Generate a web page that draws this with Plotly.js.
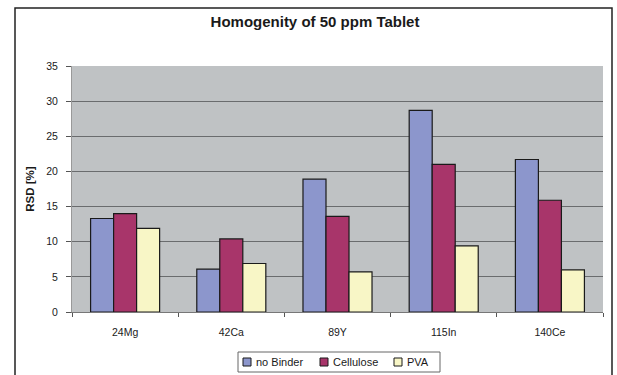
<!DOCTYPE html>
<html>
<head>
<meta charset="utf-8">
<script src="https://cdn.plot.ly/plotly-3.0.1.min.js"></script>
<style>
  html, body { margin: 0; padding: 0; background: #ffffff; }
  #chart { width: 617px; height: 375px; }
</style>
</head>
<body>
<div id="chart"></div>
<script>
const categories = ["24Mg", "42Ca", "89Y", "115In", "140Ce"];
const noBinder = [13.3, 6.1, 18.9, 28.7, 21.7];
const cellulose = [14.0, 10.4, 13.6, 21.0, 15.9];
const pva = [11.9, 6.9, 5.7, 9.4, 6.0];
const seriesNames = ["no Binder", "Cellulose", "PVA"];
const yTicks = [0, 5, 10, 15, 20, 25, 30, 35];

const colors = ["#8c96cc", "#a8356a", "#f8f6c6"];
const values = [noBinder, cellulose, pva];

const M = { l: 72, r: 14, t: 66, b: 63 };
const W = 617, H = 375;
const PW = W - M.l - M.r, PH = H - M.t - M.b;
const px = x => (x - M.l) / PW;          // pixel -> paper x
const py = y => (H - M.b - y) / PH;      // pixel -> paper y

const traces = values.map((v, i) => ({
  type: "bar",
  name: seriesNames[i],
  x: categories,
  y: v,
  marker: { color: colors[i], line: { color: "#1a1a1a", width: 1.2 } },
  hoverinfo: "x+y+name",
  showlegend: false
}));

// Compact legend (Excel style) drawn as shapes + text annotations
const legendItems = [
  { sq: 243, tx: 254 },
  { sq: 320, tx: 331 },
  { sq: 394, tx: 405 }
];
const legendShapes = [
  {
    type: "rect", xref: "paper", yref: "paper",
    x0: px(238), x1: px(440), y0: py(372), y1: py(352),
    line: { color: "#666666", width: 1 }, fillcolor: "#ffffff"
  }
];
const legendAnn = [];
legendItems.forEach((it, i) => {
  legendShapes.push({
    type: "rect", xref: "paper", yref: "paper",
    x0: px(it.sq), x1: px(it.sq + 8), y0: py(366), y1: py(358),
    line: { color: "#1a1a1a", width: 1 }, fillcolor: colors[i]
  });
  legendAnn.push({
    xref: "paper", yref: "paper", x: px(it.tx), y: py(362),
    xanchor: "left", yanchor: "middle", showarrow: false,
    text: seriesNames[i], font: { size: 11, color: "#1a1a1a" }
  });
});

const layout = {
  width: W,
  height: H,
  margin: { l: M.l, r: M.r, t: M.t, b: M.b, pad: 0 },
  paper_bgcolor: "#ffffff",
  plot_bgcolor: "#bfc2c4",
  font: { family: "Liberation Sans, Arial, sans-serif", color: "#1a1a1a", size: 10 },
  title: {
    text: "<b>Homogenity of 50 ppm Tablet</b>",
    font: { size: 15, color: "#1a1a1a" },
    x: px(315), xanchor: "center", xref: "paper",
    y: 1 - 22 / H, yanchor: "middle"
  },
  barmode: "group",
  bargap: 0.35,
  bargroupgap: 0,
  showlegend: false,
  xaxis: {
    type: "category",
    showgrid: false,
    showline: true,
    linecolor: "#777777",
    linewidth: 1,
    ticks: "outside",
    tickson: "boundaries",
    ticklen: 4,
    tickcolor: "#555555",
    ticklabelstandoff: 10,
    tickfont: { size: 10.5, color: "#1a1a1a" },
    zeroline: false,
    automargin: false
  },
  yaxis: {
    range: [0, 35],
    tickvals: yTicks,
    ticktext: yTicks.map(String),
    showgrid: true,
    gridcolor: "#6a6c6e",
    gridwidth: 1.3,
    showline: true,
    linecolor: "#999999",
    ticks: "outside",
    ticklen: 5,
    tickcolor: "#555555",
    ticklabelstandoff: 6,
    tickfont: { size: 10.5, color: "#1a1a1a" },
    zeroline: false,
    automargin: false,
    title: { text: "<b>RSD [%]</b>", font: { size: 11.5, color: "#1a1a1a" }, standoff: 9 }
  },
  shapes: [
    {
      type: "rect", xref: "paper", yref: "paper",
      x0: px(15), x1: px(612), y0: py(380), y1: py(8),
      line: { color: "#222222", width: 1.5 }, fillcolor: "rgba(0,0,0,0)", layer: "below"
    }
  ].concat(legendShapes),
  annotations: legendAnn
};

Plotly.newPlot("chart", traces, layout, { displayModeBar: false });
</script>
</body>
</html>
